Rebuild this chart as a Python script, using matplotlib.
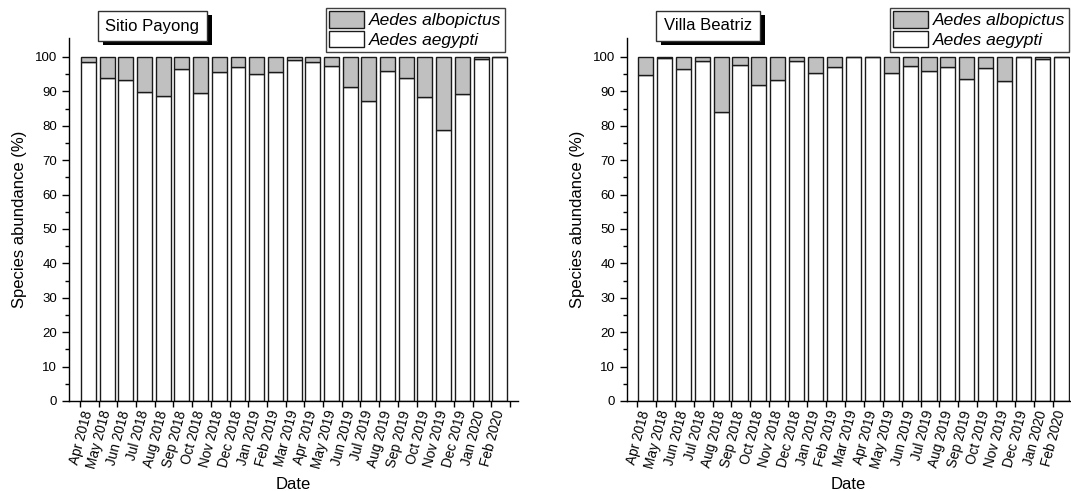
import numpy as np
import matplotlib
matplotlib.use("Agg")
import matplotlib.pyplot as plt
from matplotlib.patches import Patch, Rectangle

plt.rcParams['font.family'] = ['Liberation Sans', 'DejaVu Sans']

months = ['Apr 2018', 'May 2018', 'Jun 2018', 'Jul 2018', 'Aug 2018', 'Sep 2018',
          'Oct 2018', 'Nov 2018', 'Dec 2018', 'Jan 2019', 'Feb 2019', 'Mar 2019',
          'Apr 2019', 'May 2019', 'Jun 2019', 'Jul 2019', 'Aug 2019', 'Sep 2019',
          'Oct 2019', 'Nov 2019', 'Dec 2019', 'Jan 2020', 'Feb 2020']

# % Aedes aegypti per month; albopictus is the remainder up to 100
payong_aegypti = [98.4, 93.8, 93.2, 89.7, 88.7, 96.6, 89.4, 95.7, 97.2, 94.9, 95.7, 99.0,
                  98.4, 97.5, 91.2, 87.2, 96.0, 93.8, 88.4, 78.8, 89.1, 99.3, 100.0]
beatriz_aegypti = [94.7, 99.7, 96.6, 98.7, 84.1, 97.6, 91.9, 93.2, 98.7, 95.4, 97.2, 100.0,
                   100.0, 95.4, 97.5, 95.9, 97.2, 93.5, 96.8, 92.9, 100.0, 99.5, 100.0]

sites = ['Sitio Payong', 'Villa Beatriz']
species = ['Aedes albopictus', 'Aedes aegypti']

GRAY = '#c0c0c0'
EDGE = '#1a1a1a'
W, H = 1071, 491

fig = plt.figure(figsize=(W / 100, H / 100), dpi=100)
ax1 = fig.add_axes([0.0644, 0.1833, 0.4193, 0.7393])
ax2 = fig.add_axes([0.5854, 0.1833, 0.4137, 0.7393])


def draw_panel(ax, aegypti, xlim):
    aeg = np.array(aegypti)
    alb = 100 - aeg
    x = np.arange(len(months))
    ax.bar(x, aeg, width=0.8, color='white', edgecolor=EDGE, linewidth=1.0)
    ax.bar(x, alb, width=0.8, bottom=aeg, color=GRAY, edgecolor=EDGE, linewidth=1.0)

    ax.set_xlim(*xlim)
    ax.set_ylim(0, 105.5)
    for side in ('top', 'right'):
        ax.spines[side].set_visible(False)
    for side in ('left', 'bottom'):
        ax.spines[side].set_linewidth(1.0)

    # labels sit under bar centres, tick marks at the left bar edges
    ax.set_xticks(x)
    ax.set_xticklabels(months, rotation=75, ha='right', va='center',
                       rotation_mode='anchor', fontsize=9.8)
    ax.tick_params(axis='x', which='major', length=0, pad=7)
    edges = np.arange(len(months) + 1) - 0.45
    edges = edges[edges < xlim[1]]
    ax.set_xticks(edges, minor=True)
    ax.tick_params(axis='x', which='minor', length=4, width=1, direction='out')

    ax.set_yticks(np.arange(0, 101, 10))
    ax.set_yticks(np.arange(5, 101, 10), minor=True)
    ax.tick_params(axis='y', which='major', length=5, width=1, labelsize=9.5, direction='out')
    ax.tick_params(axis='y', which='minor', length=3, width=1, direction='out')

    ax.set_xlabel('Date', fontsize=12, labelpad=5)
    ax.set_ylabel('Species abundance (%)', fontsize=12, labelpad=6)


draw_panel(ax1, payong_aegypti, (-1.04, 22.98))
draw_panel(ax2, beatriz_aegypti, (-0.98, 22.46))

handles = [Patch(facecolor=GRAY, edgecolor=EDGE, linewidth=1.0),
           Patch(facecolor='white', edgecolor=EDGE, linewidth=1.0)]
for right in (505 / W, 1069 / W):
    leg = fig.legend(handles, species, loc='upper right',
                     bbox_to_anchor=(right, 1 - 8 / H),
                     prop={'style': 'italic', 'size': 12.5},
                     handlelength=2.0, handleheight=1.05, handletextpad=0.3,
                     labelspacing=0.15, borderpad=0.2, borderaxespad=0,
                     fancybox=False, framealpha=1)
    leg.get_frame().set_edgecolor('#404040')
    leg.get_frame().set_linewidth(1.0)

# site name boxes with a solid drop shadow behind them
labels = []
for name, cx in zip(sites, (152 / W, 708 / W)):
    t = fig.text(cx, 1 - 26 / H, name, ha='center', va='center', fontsize=12, zorder=5,
                 bbox=dict(boxstyle='square,pad=0.45', fc='white', ec='#303030', lw=1.0))
    labels.append(t)

fig.canvas.draw()
renderer = fig.canvas.get_renderer()
for t in labels:
    bb = t.get_bbox_patch().get_window_extent(renderer)
    fig.add_artist(Rectangle((bb.x0 + 5, bb.y0 - 4), bb.width, bb.height,
                             transform=None, facecolor='black', edgecolor='none', zorder=4))

fig.savefig('out.png', dpi=100)
